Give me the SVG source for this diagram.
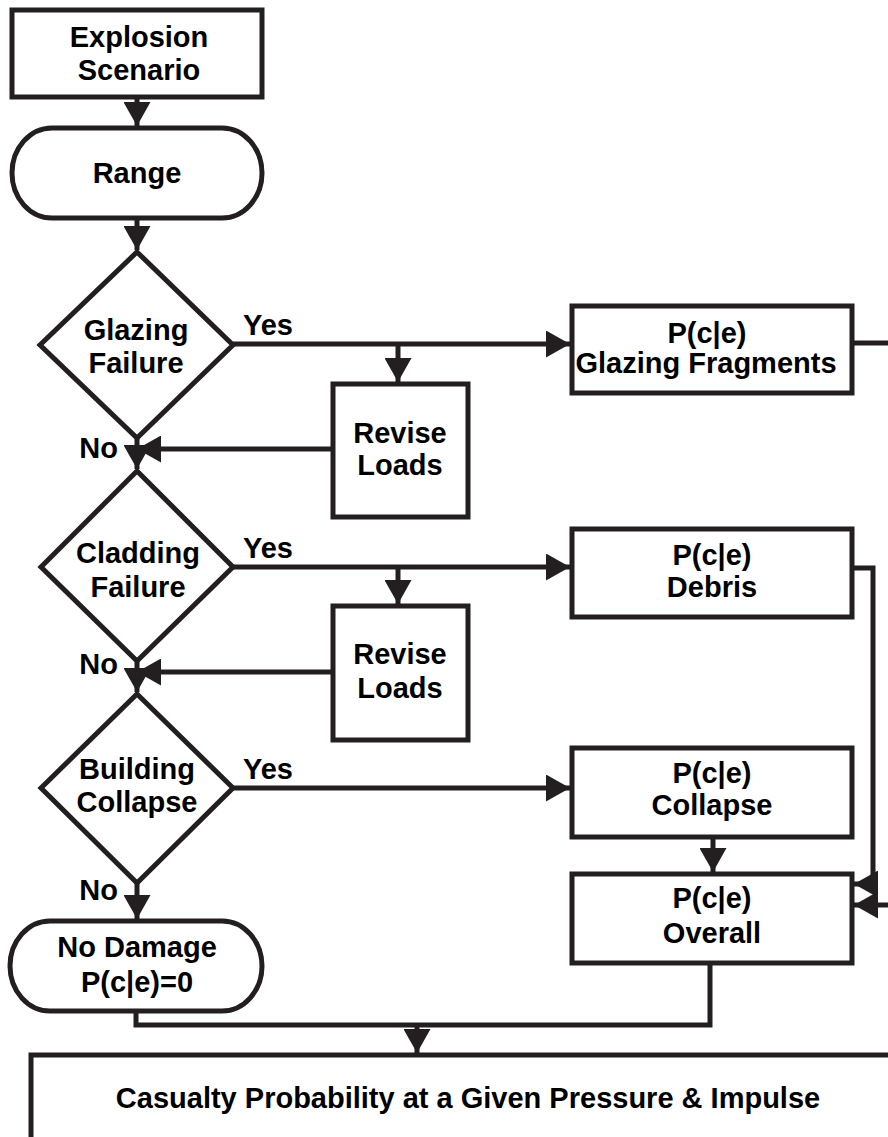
<svg xmlns="http://www.w3.org/2000/svg" width="888" height="1137" viewBox="0 0 888 1137">
<defs>
<marker id="ah" markerUnits="userSpaceOnUse" markerWidth="25" markerHeight="27" refX="24" refY="13.5" orient="auto" viewBox="0 0 25 27">
<path d="M0,0 L24,13.5 L0,27 z" fill="#231f20"/>
</marker>
<style>
.n{fill:#fff;stroke:#231f20;stroke-width:5}
.t{font-family:"Liberation Sans",Arial,sans-serif;font-weight:bold;font-size:29px;fill:#000;text-anchor:middle}
.l{font-family:"Liberation Sans",Arial,sans-serif;font-weight:bold;font-size:29px;fill:#000}
.c{fill:none;stroke:#231f20;stroke-width:5}
.a{marker-end:url(#ah)}
</style>
</defs>
<rect width="888" height="1137" fill="#fff"/>
<g id="connectors">
<path class="c a" d="M137,97 V126"/>
<path class="c a" d="M137,218 V250"/>
<path class="c a" d="M233,344 H570"/>
<path class="c a" d="M398,344 V382"/>
<path class="c a" d="M333,449 H137"/>
<path class="c a" d="M137,438 V469"/>
<path class="c a" d="M233,567 H570"/>
<path class="c a" d="M398,567 V604"/>
<path class="c a" d="M333,672 H137"/>
<path class="c a" d="M137,661 V692"/>
<path class="c a" d="M233,788 H570"/>
<path class="c a" d="M137,883 V919"/>
<path class="c a" d="M713,837 V872"/>
<path class="c" d="M852,343 H900"/>
<path class="c a" d="M852,568 H873 V884 H854"/>
<path class="c a" d="M900,905 H854"/>
<path class="c" d="M136,1011 V1025 H710 V963"/>
<path class="c a" d="M417,1025 V1053"/>
<text class="l" x="243" y="335">Yes</text>
<text class="l" x="243" y="558">Yes</text>
<text class="l" x="243" y="779">Yes</text>
<text class="l" x="118" y="458" text-anchor="end">No</text>
<text class="l" x="118" y="674" text-anchor="end">No</text>
<text class="l" x="118" y="900" text-anchor="end">No</text>
</g>
<g id="explosion">
<rect class="n" x="12" y="10" width="250" height="87"/>
<text class="t" x="139" y="47">Explosion</text>
<text class="t" x="139" y="80">Scenario</text>
</g>
<g id="range">
<path class="n" d="M52,128 H222 A40,45 0 0 1 222,218 H52 A40,45 0 0 1 52,128 z"/>
<text class="t" x="137" y="183">Range</text>
</g>
<g id="glazing">
<polygon class="n" points="137,252 233,345 137,438 40,345"/>
<text class="t" x="136" y="340">Glazing</text>
<text class="t" x="136" y="373">Failure</text>
</g>
<g id="revise1">
<rect class="n" x="333" y="384" width="135" height="133"/>
<text class="t" x="400" y="443">Revise</text>
<text class="t" x="400" y="475">Loads</text>
</g>
<g id="glazingFragments">
<rect class="n" x="572" y="306" width="280" height="87"/>
<text class="t" x="707" y="343">P(c|e)</text>
<text class="t" x="706" y="373">Glazing Fragments</text>
</g>
<g id="cladding">
<polygon class="n" points="137,471 233,567 137,661 41,567"/>
<text class="t" x="138" y="563">Cladding</text>
<text class="t" x="138" y="597">Failure</text>
</g>
<g id="revise2">
<rect class="n" x="333" y="606" width="135" height="134"/>
<text class="t" x="400" y="664">Revise</text>
<text class="t" x="400" y="698">Loads</text>
</g>
<g id="debris">
<rect class="n" x="572" y="529" width="280" height="88"/>
<text class="t" x="712" y="565">P(c|e)</text>
<text class="t" x="712" y="597">Debris</text>
</g>
<g id="building">
<polygon class="n" points="137,694 233,788 137,883 41,788"/>
<text class="t" x="137" y="779">Building</text>
<text class="t" x="137" y="812">Collapse</text>
</g>
<g id="collapse">
<rect class="n" x="572" y="748" width="280" height="89"/>
<text class="t" x="712" y="783">P(c|e)</text>
<text class="t" x="712" y="815">Collapse</text>
</g>
<g id="overall">
<rect class="n" x="572" y="874" width="280" height="89"/>
<text class="t" x="712" y="908">P(c|e)</text>
<text class="t" x="712" y="943">Overall</text>
</g>
<g id="noDamage">
<path class="n" d="M50,921 H222 A40,45 0 0 1 222,1011 H50 A40,45 0 0 1 50,921 z"/>
<text class="t" x="137" y="957">No Damage</text>
<text class="t" x="137" y="992">P(c|e)=0</text>
</g>
<g id="casualty">
<rect class="n" x="31" y="1055" width="900" height="120"/>
<text class="t" x="468" y="1108">Casualty Probability at a Given Pressure &amp; Impulse</text>
</g>
</svg>
